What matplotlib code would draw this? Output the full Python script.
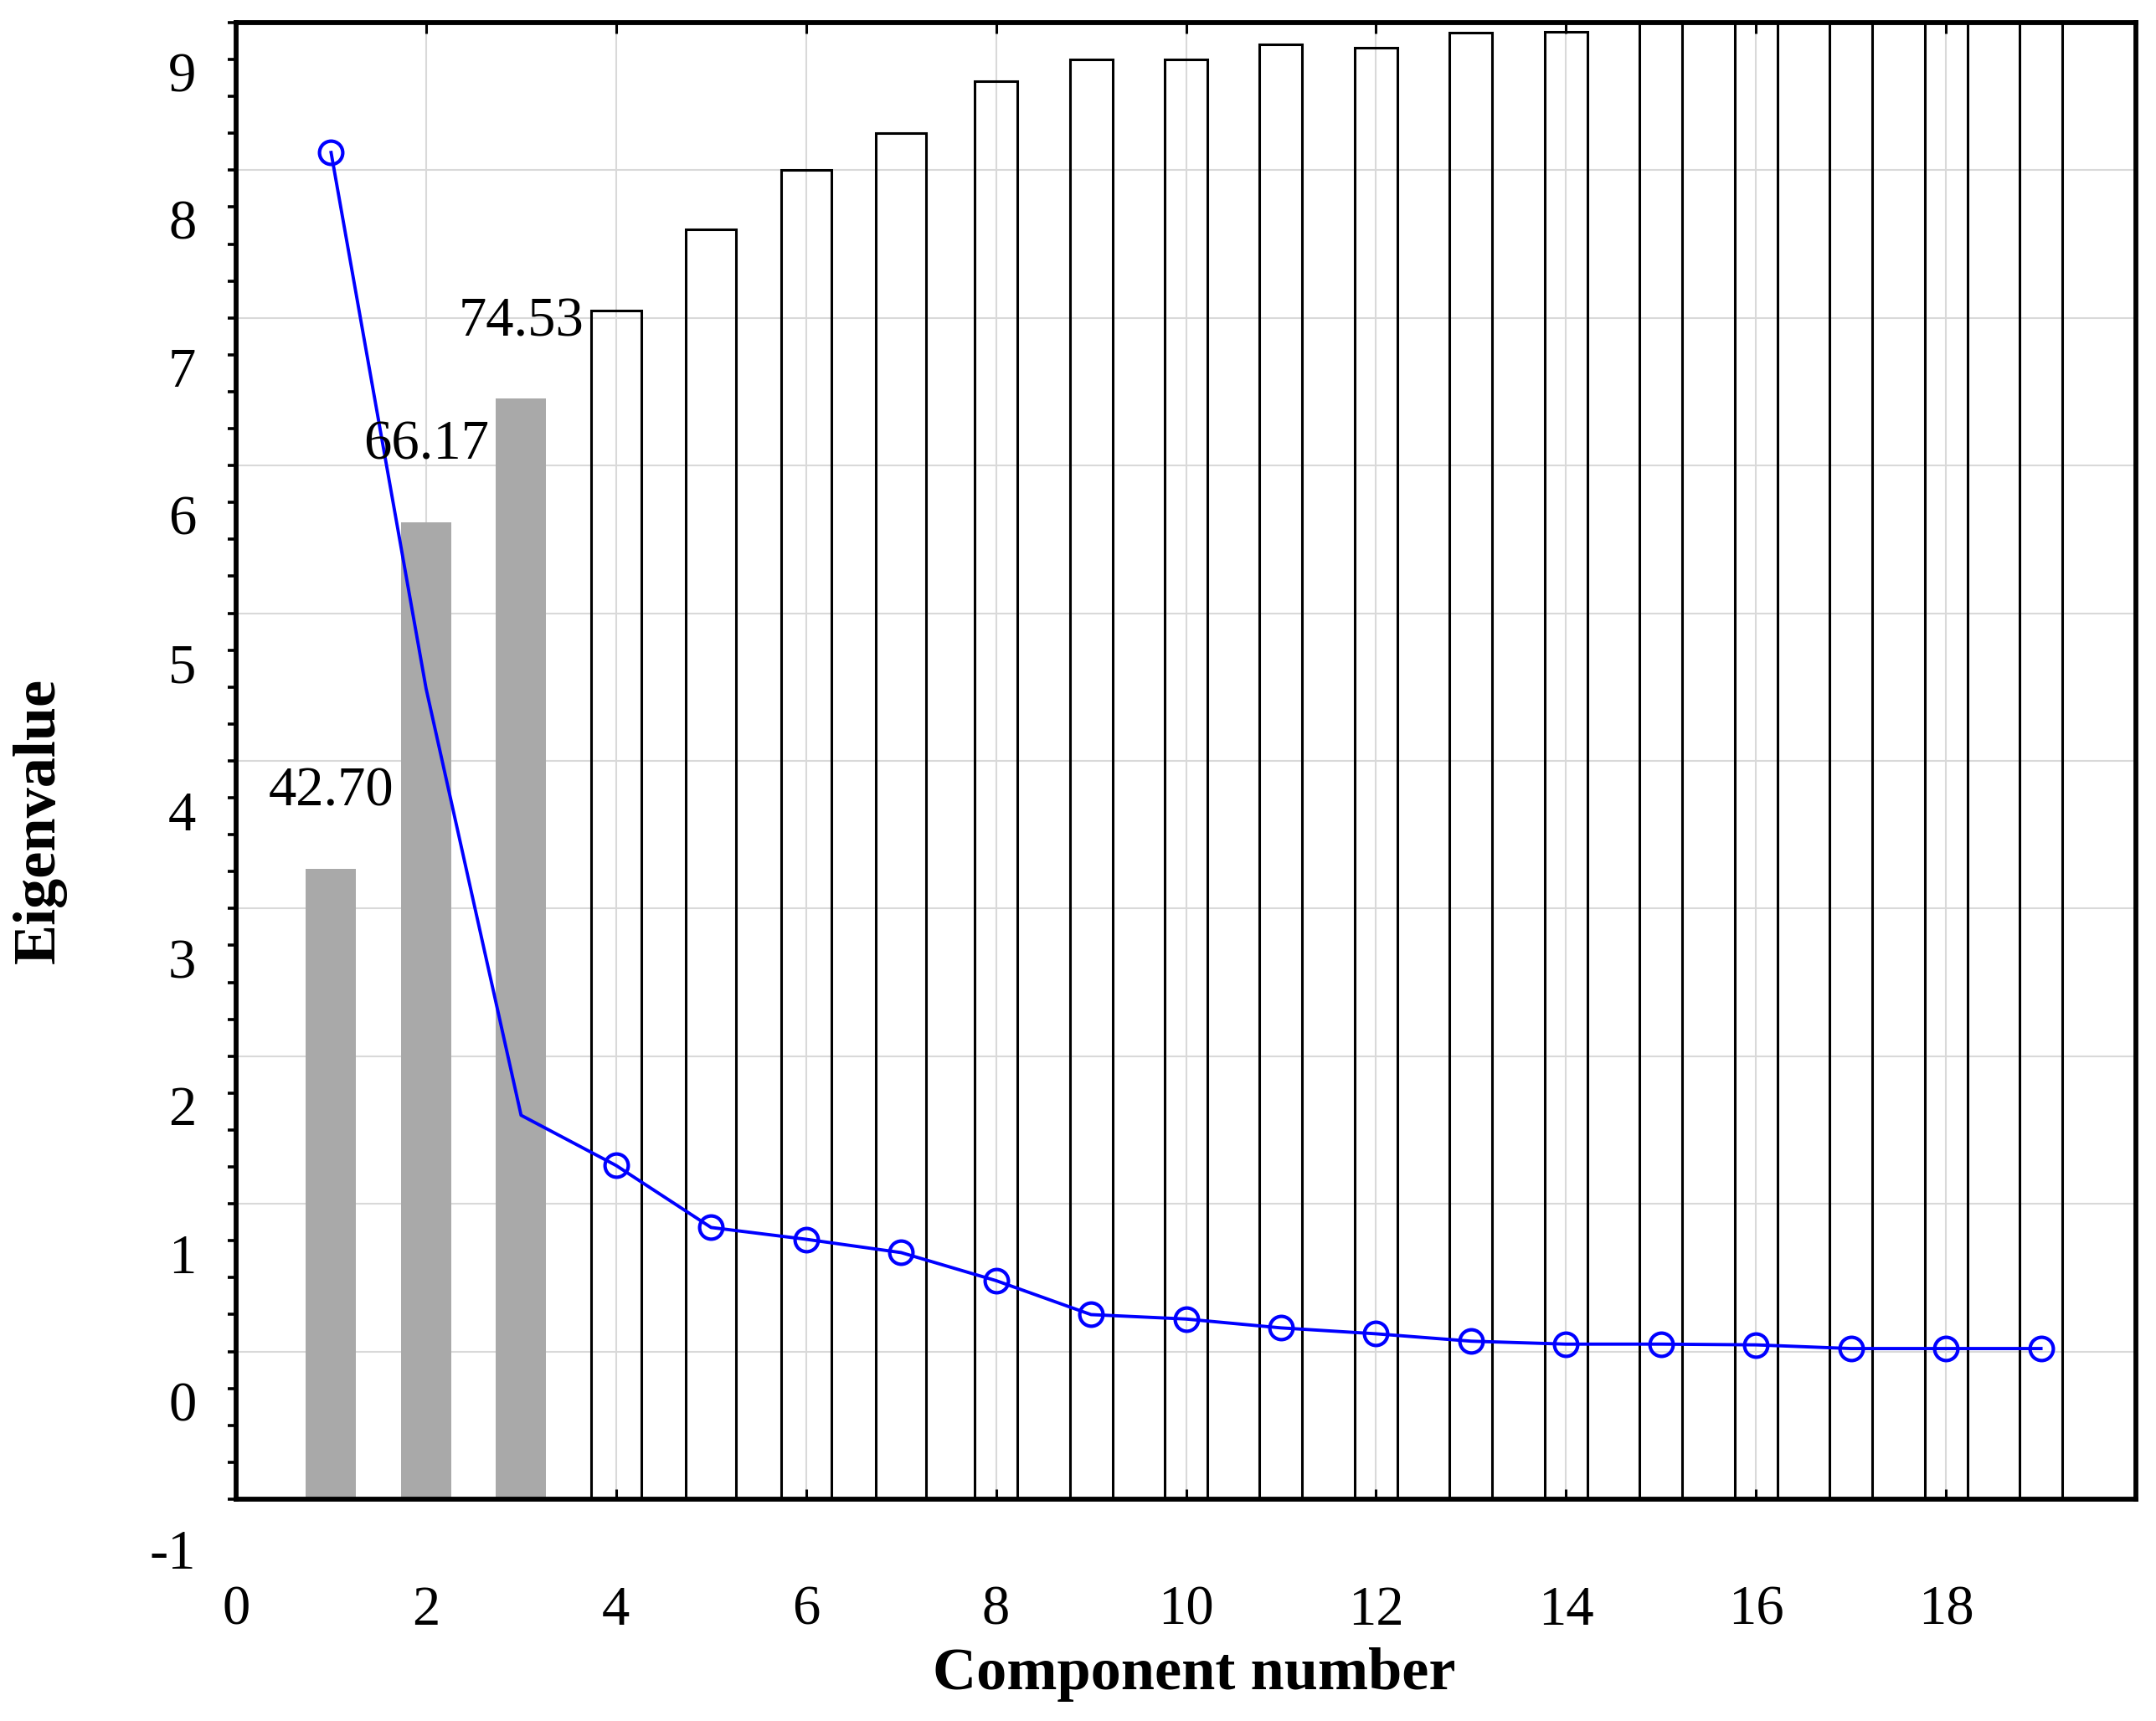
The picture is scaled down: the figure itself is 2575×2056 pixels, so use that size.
import numpy as np
import matplotlib.pyplot as plt

# scree plot data: eigenvalues and cumulative % of variance
components = np.arange(1, 20)
eigenvalues = [8.12, 4.49, 1.60, 1.26, 0.84, 0.76, 0.67, 0.48, 0.25, 0.22,
               0.16, 0.12, 0.07, 0.05, 0.05, 0.045, 0.02, 0.02, 0.02]
cumulative = [42.70, 66.17, 74.53, 80.5, 86.0, 90.0, 92.5, 96.0, 97.5, 97.5,
              98.5, 98.3, 99.3, 99.35, 100, 100, 100, 100, 100]
n_retained = 3
ytick_values = np.arange(-1, 10)
xtick_values = np.arange(0, 19, 2)

plt.rcParams['font.family'] = ['Liberation Serif', 'DejaVu Serif']

fig = plt.figure(figsize=(25.75, 20.56), dpi=100)
ax = fig.add_axes([0.1095, 0.1289, 0.8812, 0.858])
ax.set_xlim(0, 20)
ax.set_ylim(-1, 9)

# grid
for v in range(0, 9):
    ax.axhline(v, color='#d9d9d9', lw=1.5, zorder=0)
ax.set_xticks(xtick_values)
ax.grid(axis='x', color='#d9d9d9', lw=1.5, zorder=0)
ax.set_axisbelow(True)

# cumulative % bars (0-100 % mapped onto the -1..9 axis)
cum = np.array(cumulative)
widths = np.where(components <= 7, 0.53, 0.45)
kept = components <= n_retained
ax.bar(components[kept], cum[kept] / 10, bottom=-1, width=widths[kept],
       color='#a9a9a9', edgecolor='none', zorder=2)
ax.bar(components[~kept], cum[~kept] / 10, bottom=-1, width=widths[~kept],
       fill=False, edgecolor='black', lw=2.2, zorder=2)

for c, p in zip(components[kept], cum[kept]):
    ax.text(c, -1 + p / 10 + 0.52, f"{p:.2f}", fontsize=48,
            ha='center', va='center', zorder=4)

# eigenvalue line
ax.plot(components, eigenvalues, color='blue', lw=2.8, zorder=3)
mark = np.r_[0, np.arange(n_retained, len(components))]
ax.plot(components[mark], np.array(eigenvalues)[mark], 'o', color='blue',
        mfc='none', ms=20, mew=3, zorder=3)

# axes styling
for s in ax.spines.values():
    s.set_linewidth(4.2)
ax.set_yticks(np.arange(-1, 9.01, 0.25))
ax.set_yticklabels([])
ax.tick_params(axis='y', direction='out', length=7, width=2.6, left=True)
ax.tick_params(axis='x', direction='in', length=9, width=2.2, top=True,
               bottom=True, labelsize=48, pad=74)
ax.set_xticklabels([str(v) for v in xtick_values])

# y labels sit a bit lower than the ticks in the original figure
for v in ytick_values:
    ax.text(-0.021, v - 0.375, str(v), fontsize=48, ha='right', va='center',
            transform=ax.get_yaxis_transform(), clip_on=False)

fig.text(0.0185, 0.523, 'Eigenvalue', rotation=90, fontsize=52,
         fontweight='bold', ha='center', va='center')
fig.text(0.554, 0.027, 'Component number', fontsize=52, fontweight='bold',
         ha='center', va='center')

fig.savefig('out.png', dpi=100)
